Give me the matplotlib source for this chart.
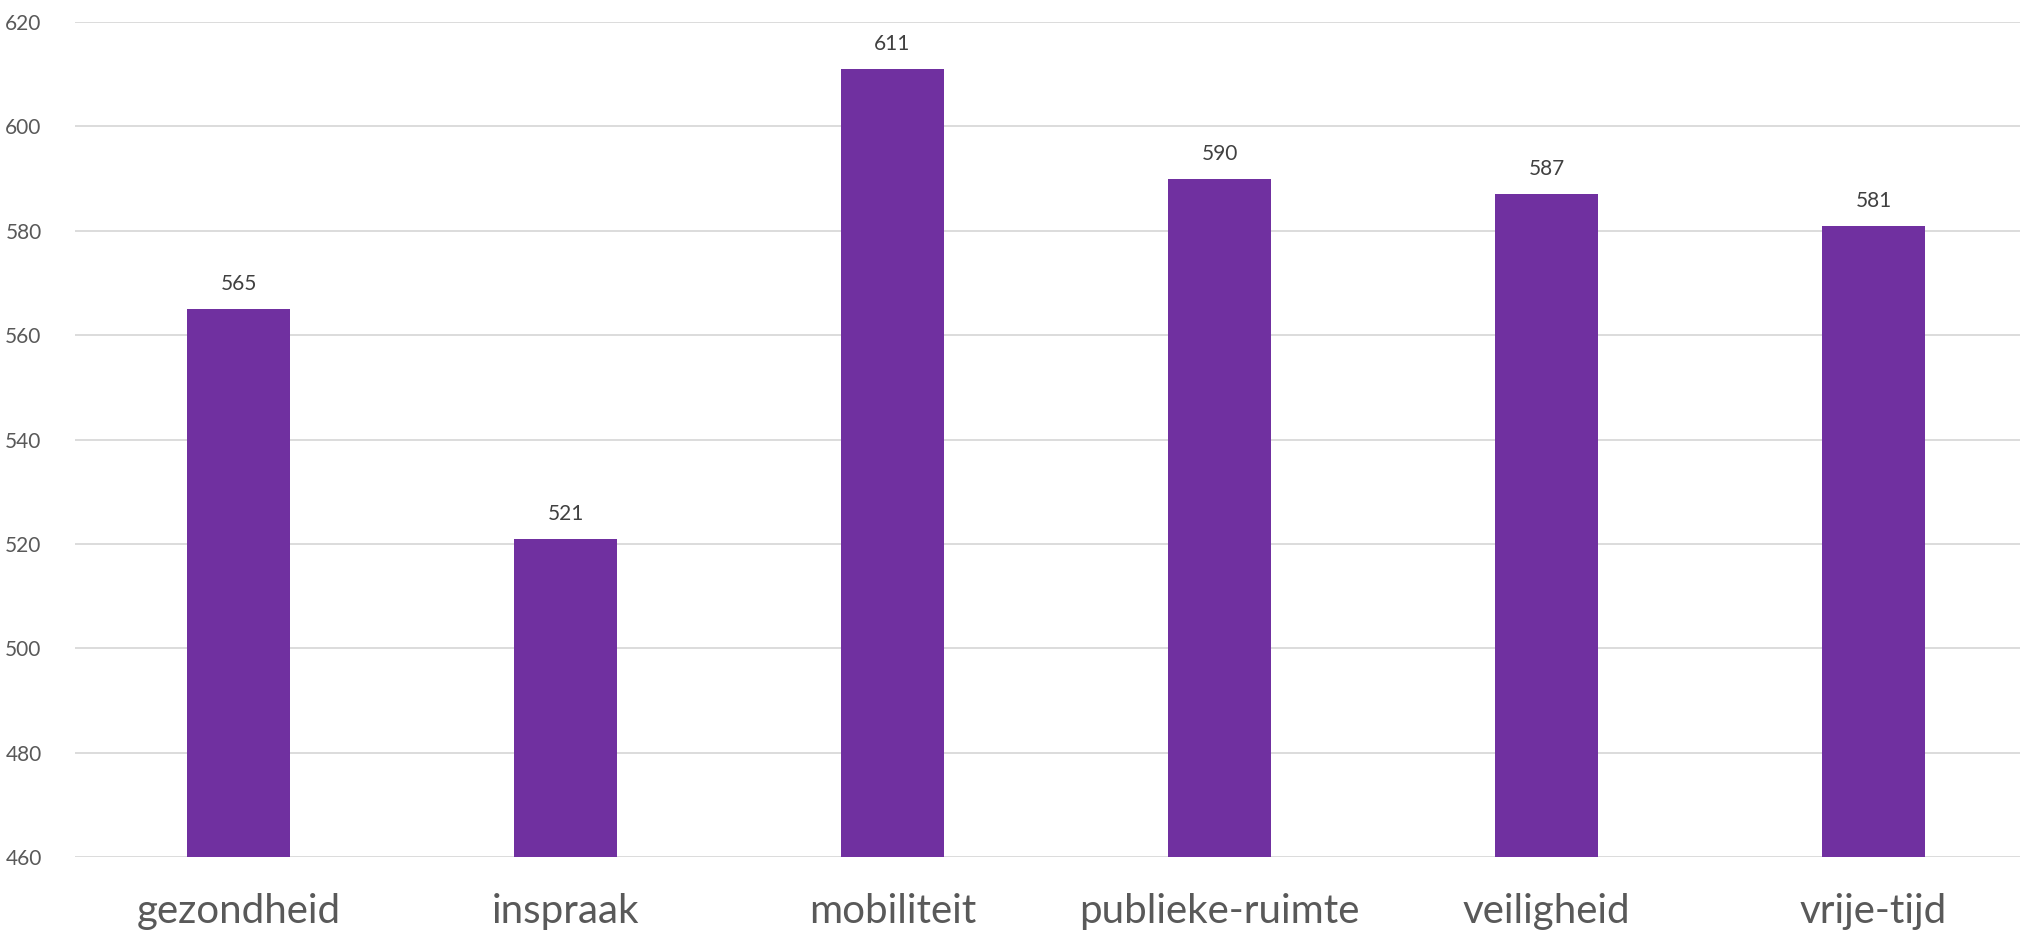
import matplotlib
matplotlib.use("Agg")
import matplotlib.pyplot as plt
import numpy as np

# DATA #
categories = ["gezondheid", "inspraak", "mobiliteit", "publieke-ruimte", "veiligheid", "vrije-tijd"]
values = [565, 521, 611, 590, 587, 581]
y_ticks = [460, 480, 500, 520, 540, 560, 580, 600, 620]
# END OF DATA #

plt.rcParams['font.family'] = ['Lato', 'DejaVu Sans']

fig = plt.figure(figsize=(20.2, 9.36), dpi=100)
ax = fig.add_axes([75 / 2020, 79 / 936, 1962 / 2020, 835 / 936])

x = np.arange(len(categories))
bars = ax.bar(x, values, width=0.315, color="#7030A0", zorder=3)

for xi, v in zip(x, values):
    ax.annotate(f"{v}", (xi, v), xytext=(0, 18), textcoords="offset points",
                ha="center", va="center", fontsize=15, color="#404040")

ax.set_xlim(-0.5, len(categories) - 0.5)
ax.set_ylim(y_ticks[0], y_ticks[-1])
ax.set_yticks(y_ticks)
ax.set_xticks(x)
ax.set_xticklabels(categories, fontsize=29, color="#595959")
ax.tick_params(axis="y", labelsize=15, labelcolor="#595959", length=0, pad=24)
ax.tick_params(axis="x", length=0, pad=26)

ax.grid(axis="y", color="#D9D9D9", linewidth=1.3, zorder=0)
for s in ax.spines.values():
    s.set_visible(False)

fig.savefig("out.png", dpi=100)
